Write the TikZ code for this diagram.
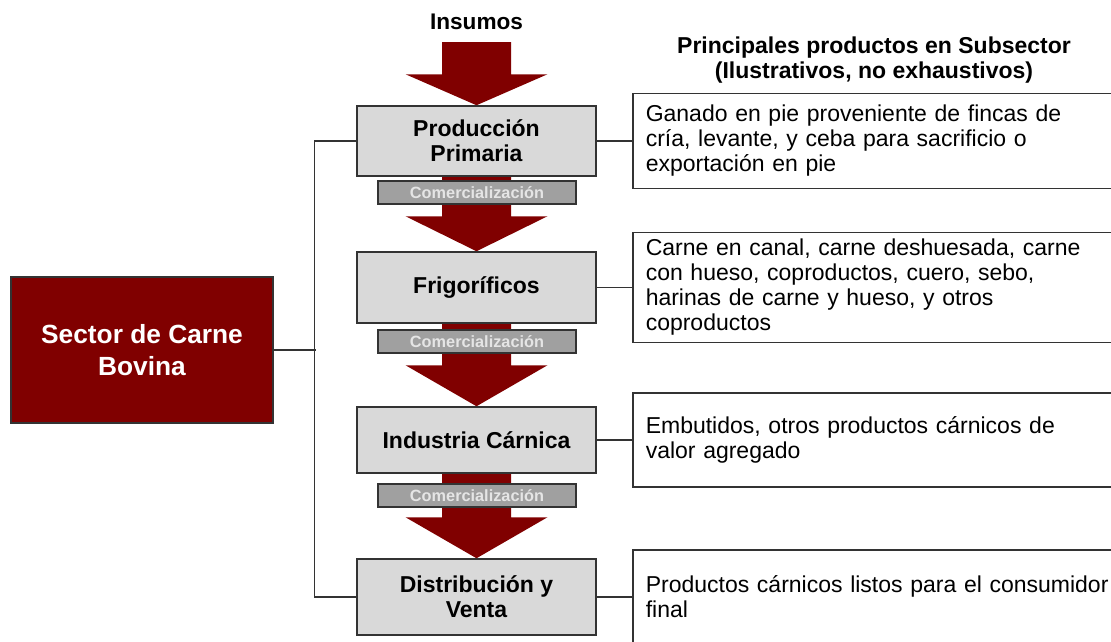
\documentclass[tikz,border=0pt]{standalone}
\usepackage{fontspec}
\setmainfont{Liberation Sans}
\usepackage{tikz}
\usetikzlibrary{shapes, arrows, positioning, calc, backgrounds}
\definecolor{maroon}{RGB}{128,0,0}
\definecolor{boxgray}{RGB}{217,217,217}
\definecolor{bargray}{RGB}{160,160,160}
\definecolor{edge}{RGB}{51,51,51}
\tikzstyle{stage} = [rectangle, draw=edge, line width=1.5pt, fill=boxgray, minimum width=239pt, minimum height=70pt, align=center, font=\bfseries\fontsize{23}{25}\selectfont]
\tikzstyle{trade} = [rectangle, draw=edge, line width=1.2pt, fill=bargray, minimum width=198pt, minimum height=23pt, inner sep=0pt, text=white!90!black, font=\bfseries\fontsize{16.3}{18}\selectfont]
\tikzstyle{product} = [rectangle, draw=edge, line width=1.5pt, fill=white, text width=500pt, inner xsep=13pt, inner ysep=3pt, align=left, anchor=west, font=\fontsize{23}{25}\selectfont]
\tikzstyle{sector} = [rectangle, draw=edge, line width=1.5pt, fill=maroon, text=white, minimum width=262pt, minimum height=146pt, align=center, font=\bfseries\fontsize{26.3}{32}\selectfont]
\tikzstyle{line} = [draw=edge, line width=1.2pt]
\tikzstyle{flow} = [fill=maroon]
\begin{document}
\begin{tikzpicture}[x=1pt, y=-1pt]
\useasboundingbox (0,0) rectangle (1111,641);
\clip (0,0) rectangle (1111,641);
\node (ins) [inner ysep=12pt, font=\bfseries\fontsize{22.6}{25}\selectfont] at (476.5,22) {Insumos};
\node (head) [align=center, font=\bfseries\fontsize{23}{25}\selectfont] at (874,60) {Principales productos en Subsector\\(Ilustrativos, no exhaustivos)};
\node (s) [sector] at (142,350) {Sector de Carne\\Bovina};
% subsectores
\node (1) [stage] at (476.5,141) {Producción\\Primaria};
\node (2) [stage, minimum height=71pt] at (476.5,287.5) {Frigoríficos};
\node (3) [stage, minimum height=66pt] at (476.5,440) {Industria Cárnica};
\node (4) [stage, minimum height=76pt] at (476.5,597) {Distribución y\\Venta};
\foreach \n/\y in {1/192.5, 2/341.5, 3/495.5}
    \node (c\n) [trade] at (477,\y) {Comercialización};
% productos
\node (p1) [product, minimum height=95pt] at (632,141) {Ganado en pie proveniente de fincas de\\cría, levante, y ceba para sacrificio o\\exportación en pie};
\node (p2) [product, minimum height=110pt] at (632,287.5) {Carne en canal, carne deshuesada, carne\\con hueso, coproductos, cuero, sebo,\\harinas de carne y hueso, y otros\\coproductos};
\node (p3) [product, minimum height=94pt] at (632,440) {Embutidos, otros productos cárnicos de\\valor agregado};
\node (p4) [product, minimum height=94pt] at (632,597) {Productos cárnicos listos para el consumidor\\final};
\draw [line] (1.west) -- ++(-42,0) |- (4.west);
\draw [line] (s.east) -- ++(42,0);
\foreach \n in {1,...,4}
    \draw [line] (\n.east) -- (p\n.west);
\begin{pgfonlayer}{background}
\foreach \a/\b/\h in {ins/1/31, 1/2/35, 2/3/41, 3/4/41}
    \fill [flow] ($(\a.south)+(-34.5,0)$) -- ($(\b.north)+(-34.5,-\h)$) -- ($(\b.north)+(-71,-\h)$) -- (\b.north)
        -- ($(\b.north)+(71,-\h)$) -- ($(\b.north)+(34.5,-\h)$) -- ($(\a.south)+(34.5,0)$) -- cycle;
\end{pgfonlayer}
\end{tikzpicture}
\end{document}
